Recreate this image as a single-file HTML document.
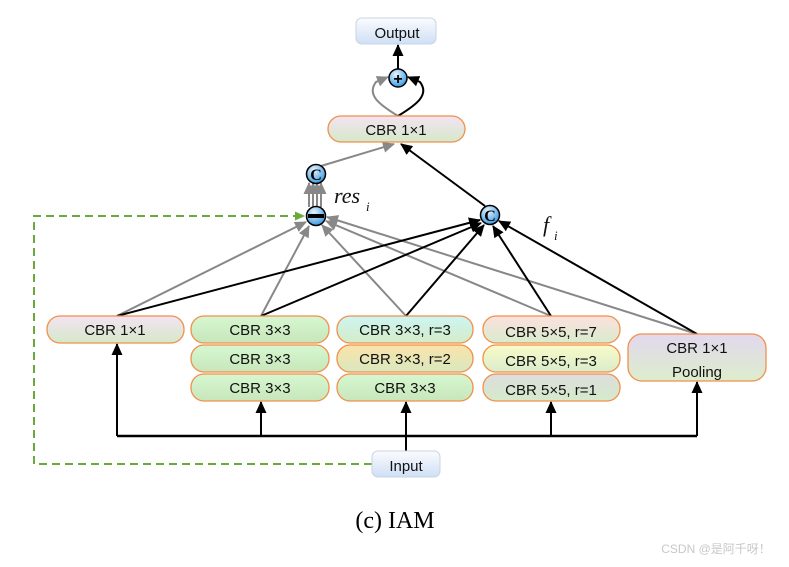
<!DOCTYPE html>
<html><head><style>
body{margin:0;width:789px;height:562px;background:#fff;overflow:hidden}
</style></head><body>
<svg width="789" height="562" xmlns="http://www.w3.org/2000/svg" font-family="'Liberation Sans','DejaVu Sans',sans-serif">
<defs>
<linearGradient id="pg" x1="0" y1="0" x2="0" y2="1"><stop offset="0" stop-color="#f3e3f3"/><stop offset="1" stop-color="#d5e9c8"/></linearGradient>
<linearGradient id="gg" x1="0" y1="0" x2="0" y2="1"><stop offset="0" stop-color="#d6f7d0"/><stop offset="1" stop-color="#c8e6bb"/></linearGradient>
<linearGradient id="cg" x1="0" y1="0" x2="0" y2="1"><stop offset="0" stop-color="#cdf5f2"/><stop offset="1" stop-color="#d4ecc8"/></linearGradient>
<linearGradient id="og" x1="0" y1="0" x2="0" y2="1"><stop offset="0" stop-color="#fbe3a8"/><stop offset="1" stop-color="#d8e8c0"/></linearGradient>
<linearGradient id="rg" x1="0" y1="0" x2="0" y2="1"><stop offset="0" stop-color="#fde0de"/><stop offset="1" stop-color="#d8eccc"/></linearGradient>
<linearGradient id="yg" x1="0" y1="0" x2="0" y2="1"><stop offset="0" stop-color="#fbfbc8"/><stop offset="1" stop-color="#d8eccc"/></linearGradient>
<linearGradient id="sg" x1="0" y1="0" x2="0" y2="1"><stop offset="0" stop-color="#dddddd"/><stop offset="1" stop-color="#d5eacb"/></linearGradient>
<linearGradient id="vg" x1="0" y1="0" x2="0" y2="1"><stop offset="0" stop-color="#e2d8ee"/><stop offset="1" stop-color="#ddedcc"/></linearGradient>
<linearGradient id="bg" x1="0" y1="0" x2="0" y2="1"><stop offset="0" stop-color="#fbfcfe"/><stop offset="1" stop-color="#cfdff5"/></linearGradient>
<radialGradient id="cb" cx="0.4" cy="0.3" r="0.7"><stop offset="0" stop-color="#e8f4ff"/><stop offset="1" stop-color="#3d9be0"/></radialGradient>
<marker id="ak" markerWidth="12" markerHeight="12" refX="11" refY="6" orient="auto" markerUnits="userSpaceOnUse" viewBox="0 0 12 12"><path d="M0,0.5 L12,6 L0,11.5z" fill="#000"/></marker>
<marker id="ag" markerWidth="12" markerHeight="12" refX="11" refY="6" orient="auto" markerUnits="userSpaceOnUse" viewBox="0 0 12 12"><path d="M0,0.5 L12,6 L0,11.5z" fill="#888"/></marker>
<marker id="agr" markerWidth="10" markerHeight="10" refX="9" refY="5" orient="auto" markerUnits="userSpaceOnUse" viewBox="0 0 10 10"><path d="M0,0.5 L10,5 L0,9.5z" fill="#6aaa3c"/></marker>
</defs>
<polyline points="372,464 34,464 34,216 304,216" fill="none" stroke="#6aaa3c" stroke-width="2" stroke-dasharray="8,5" marker-end="url(#agr)"/>
<g stroke="#888" stroke-width="2" fill="none" marker-end="url(#ag)">
<line x1="117" y1="316" x2="306" y2="222"/>
<line x1="261" y1="316" x2="309" y2="226"/>
<line x1="406" y1="316" x2="322" y2="225"/>
<line x1="551" y1="316" x2="326" y2="221"/>
<line x1="697" y1="334" x2="327" y2="217"/>
<line x1="321" y1="166" x2="394" y2="144"/>
<line x1="309" y1="207" x2="309" y2="183"/>
<line x1="313" y1="207" x2="313" y2="183"/>
<line x1="317" y1="207" x2="317" y2="183"/>
<line x1="321" y1="207" x2="321" y2="183"/>
<path d="M398,116 C380,105 366,95 376,82 L388,77"/>
</g>
<g stroke="#000" stroke-width="2" fill="none" marker-end="url(#ak)">
<line x1="117" y1="316" x2="480" y2="220"/>
<line x1="261" y1="316" x2="481" y2="223"/>
<line x1="406" y1="316" x2="484" y2="225"/>
<line x1="551" y1="316" x2="493" y2="226"/>
<line x1="697" y1="334" x2="499" y2="221"/>
<line x1="485" y1="206" x2="401" y2="144"/>
<line x1="398" y1="69" x2="398" y2="45"/>
<path d="M398,116 C416,105 430,95 420,82 L408,77"/>
<polyline points="117,436 117,344"/>
<polyline points="697,436 697,382"/>
<line x1="261" y1="436" x2="261" y2="402"/>
<line x1="406" y1="451" x2="406" y2="402"/>
<line x1="551" y1="436" x2="551" y2="402"/>
</g>
<line x1="117" y1="436" x2="697" y2="436" stroke="#000" stroke-width="2.5"/>
<g stroke="#f0904a" stroke-width="1.3">
<rect x="328" y="116" width="137" height="26" rx="13" fill="url(#pg)"/>
<rect x="47" y="316" width="137" height="27" rx="13" fill="url(#pg)"/>
<rect x="191" y="316" width="138" height="27" rx="13" fill="url(#gg)"/>
<rect x="191" y="345" width="138" height="27" rx="13" fill="url(#gg)"/>
<rect x="191" y="374" width="138" height="27" rx="13" fill="url(#gg)"/>
<rect x="337" y="316" width="136" height="27" rx="13" fill="url(#cg)"/>
<rect x="337" y="345" width="136" height="27" rx="13" fill="url(#og)"/>
<rect x="337" y="374" width="136" height="27" rx="13" fill="url(#gg)"/>
<rect x="483" y="316" width="137" height="27" rx="13" fill="url(#rg)"/>
<rect x="483" y="345" width="137" height="27" rx="13" fill="url(#yg)"/>
<rect x="483" y="374" width="137" height="27" rx="13" fill="url(#sg)"/>
<rect x="628" y="334" width="138" height="47" rx="14" fill="url(#vg)"/>
</g>
<rect x="356" y="18" width="80" height="26" rx="6" fill="url(#bg)" stroke="#c8d4e4"/>
<rect x="372" y="451" width="68" height="26" rx="6" fill="url(#bg)" stroke="#c8d4e4"/>
<g font-size="15" text-anchor="middle" fill="#111">
<text x="397" y="38">Output</text>
<text x="406" y="471">Input</text>
<text x="396" y="135">CBR 1×1</text>
<text x="115" y="335">CBR 1×1</text>
<text x="260" y="335">CBR 3×3</text>
<text x="260" y="364">CBR 3×3</text>
<text x="260" y="393">CBR 3×3</text>
<text x="405" y="335">CBR 3×3, r=3</text>
<text x="405" y="364">CBR 3×3, r=2</text>
<text x="405" y="393">CBR 3×3</text>
<text x="551" y="337">CBR 5×5, r=7</text>
<text x="551" y="366">CBR 5×5, r=3</text>
<text x="551" y="395">CBR 5×5, r=1</text>
<text x="697" y="353">CBR 1×1</text>
<text x="697" y="377">Pooling</text>
</g>
<g stroke="#000" stroke-width="1.5" fill="url(#cb)">
<circle cx="398" cy="78" r="9"/>
<circle cx="316" cy="174" r="9.5"/>
<circle cx="316" cy="216" r="9.5"/>
<circle cx="490" cy="215" r="9.5"/>
</g>
<text x="398" y="84" font-size="16" font-weight="bold" text-anchor="middle">+</text>
<rect x="308" y="214" width="16" height="4" fill="#000"/>
<g font-family="'Liberation Serif',serif" font-weight="bold" font-size="16" text-anchor="middle">
<text x="316" y="180">C</text><text x="490" y="221">C</text>
</g>
<g font-family="'Liberation Serif',serif" font-style="italic" fill="#111">
<text x="334" y="203" font-size="22">res</text><text x="366" y="211" font-size="13">i</text>
<text x="543" y="232" font-size="22">f</text><text x="554" y="240" font-size="13">i</text>
</g>
<text x="395" y="528" font-family="'Liberation Serif',serif" font-size="24" text-anchor="middle" fill="#000">(c)  IAM</text>
<text x="716" y="553" font-family="'Liberation Sans','Noto Sans CJK SC',sans-serif" font-size="12" text-anchor="middle" fill="#c8c8c8">CSDN @是阿千呀！</text>
</svg>
</body></html>
